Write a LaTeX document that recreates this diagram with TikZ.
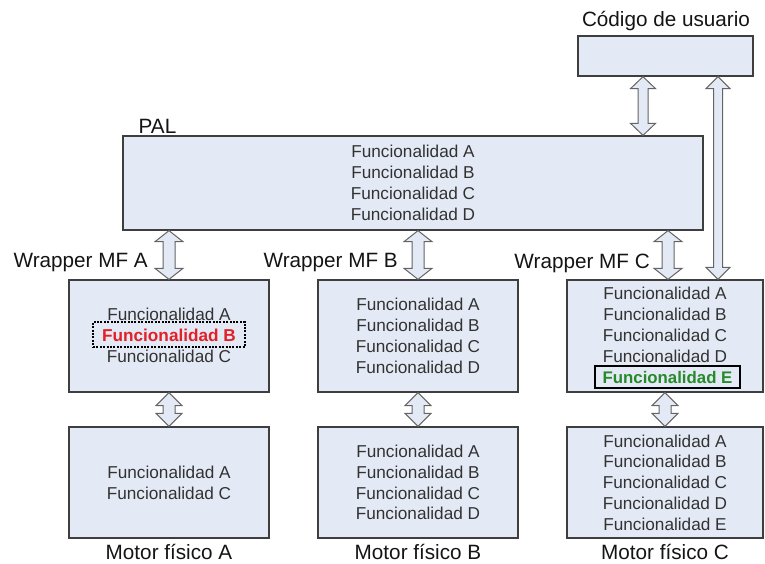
\documentclass[tikz,border=0pt]{standalone}
\usepackage{fontspec}
\setmainfont{Liberation Sans}
\usetikzlibrary{calc}

\definecolor{boxfill}{RGB}{228,234,245}
\definecolor{boxline}{RGB}{62,62,62}
\definecolor{arrowline}{RGB}{100,100,100}
\definecolor{txtgray}{RGB}{50,50,50}
\definecolor{txtdark}{RGB}{20,20,20}
\definecolor{redB}{RGB}{226,32,38}
\definecolor{greenE}{RGB}{38,138,42}

\newcommand{\funcfont}{\fontsize{17.2}{20.8}\selectfont}
\newcommand{\labfont}{\fontsize{20.7}{24}\selectfont}

% Hollow double-headed arrow between two points on one vertical line.
% #1 upper point, #2 lower point, #3 head half width, #4 shaft half width, #5 head length
\newcommand{\hollowarrow}[5]{%
  \path[arrowbody] let \p1=#1, \p2=#2 in
    (\x1,\y1) -- (\x1+#3,\y1-#5) -- (\x1+#4,\y1-#5) -- (\x1+#4,\y2+#5)
    -- (\x1+#3,\y2+#5) -- (\x1,\y2) -- (\x1-#3,\y2+#5) -- (\x1-#4,\y2+#5)
    -- (\x1-#4,\y1-#5) -- (\x1-#3,\y1-#5) -- cycle;}

\tikzset{
  block/.style={draw=boxline, line width=1.3pt, fill=boxfill, inner sep=0pt,
    align=center, text=txtgray, font=\funcfont},
  caption/.style={inner sep=0pt, text=txtdark, font=\labfont},
  linetext/.style={inner sep=0pt, text=txtgray, font=\funcfont},
  arrowbody/.style={draw=arrowline, fill=boxfill, line width=1pt, line join=miter},
  removed/.style={draw=black, line width=1.2pt, dash pattern=on 2pt off 1.4pt,
    inner sep=0pt, minimum width=152pt, minimum height=25pt},
  added/.style={draw=black, line width=1.6pt, inner sep=0pt,
    minimum width=145pt, minimum height=22pt}
}

\begin{document}
\begin{tikzpicture}[x=1pt, y=-1pt]
\useasboundingbox (0,0) rectangle (765,563);

% user code
\node[caption] (usrlabel) at (666,21) {Código de usuario};
\node[block, minimum width=175pt, minimum height=40pt] (usr) at (665.5,56) {};

% abstraction layer
\node[caption, anchor=base] (pallabel) at (157.5,133) {PAL};
\node[block, minimum width=580pt, minimum height=94pt] (pal) at (413,183)
  {Funcionalidad A\\Funcionalidad B\\Funcionalidad C\\Funcionalidad D};

% wrappers
\node[block, minimum width=200pt, minimum height=112pt] (a1) at (169,336) {};
\node[linetext] (a1l1) at (169,314) {Funcionalidad A};
\node[removed] (a1box) at (169,334.5) {};
\node[inner sep=0pt, font=\funcfont\bfseries, text=redB] (a1l2) at (169,335) {Funcionalidad B};
\node[linetext] (a1l3) at (169,356.5) {Funcionalidad C};

\node[block, minimum width=200pt, minimum height=112pt] (b1) at (418,336)
  {Funcionalidad A\\Funcionalidad B\\Funcionalidad C\\Funcionalidad D};

\node[block, minimum width=196pt, minimum height=112pt] (c1) at (665,336) {};
\node[linetext] (c1l1) at (665,293.5) {Funcionalidad A};
\node[linetext] (c1l2) at (665,314.5) {Funcionalidad B};
\node[linetext] (c1l3) at (665,335.5) {Funcionalidad C};
\node[linetext] (c1l4) at (665,356) {Funcionalidad D};
\node[added] (c1box) at (667.5,377) {};
\node[inner sep=0pt, font=\fontsize{16.8}{20}\selectfont\bfseries, text=greenE] (c1l5) at (667.5,377.5) {Funcionalidad E};

\node[caption, anchor=east] (wla) at (148,263) {Wrapper MF A};
\node[caption, anchor=east] (wlb) at (398,263) {Wrapper MF B};
\node[caption, anchor=east] (wlc) at (650,263) {Wrapper MF C};

% physics engines
\node[block, minimum width=200pt, minimum height=111pt] (a2) at (169,482.5)
  {Funcionalidad A\\Funcionalidad C};
\node[block, minimum width=200pt, minimum height=111pt] (b2) at (418,482.5)
  {Funcionalidad A\\Funcionalidad B\\Funcionalidad C\\Funcionalidad D};
\node[block, minimum width=196pt, minimum height=111pt] (c2) at (665,482.5)
  {Funcionalidad A\\Funcionalidad B\\Funcionalidad C\\Funcionalidad D\\Funcionalidad E};

\node[caption] (mla) at (169,552) {Motor físico A};
\node[caption] (mlb) at (418,552) {Motor físico B};
\node[caption] (mlc) at (665,552) {Motor físico C};

% arrows
\coordinate (usrl) at ([xshift=-22.5pt]usr.south);
\coordinate (usrr) at ([xshift=52.5pt]usr.south);
\hollowarrow{(usrl)}{(pal.north -| usrl)}{12.5pt}{5pt}{12pt}
\hollowarrow{(usrr)}{(c1.north -| usrr)}{12pt}{4.5pt}{12pt}

\hollowarrow{(pal.south -| a1.north)}{(a1.north)}{14pt}{6pt}{11pt}
\hollowarrow{(pal.south -| b1.north)}{(b1.north)}{14pt}{6pt}{11pt}
\coordinate (c1top) at ([xshift=3pt]c1.north);
\hollowarrow{(pal.south -| c1top)}{(c1top)}{14pt}{6pt}{11pt}

\hollowarrow{(a1.south)}{(a2.north)}{13pt}{6pt}{13pt}
\hollowarrow{(b1.south)}{(b2.north)}{13pt}{6pt}{13pt}
\hollowarrow{(c1.south)}{(c2.north)}{13pt}{6pt}{13pt}
\end{tikzpicture}
\end{document}
